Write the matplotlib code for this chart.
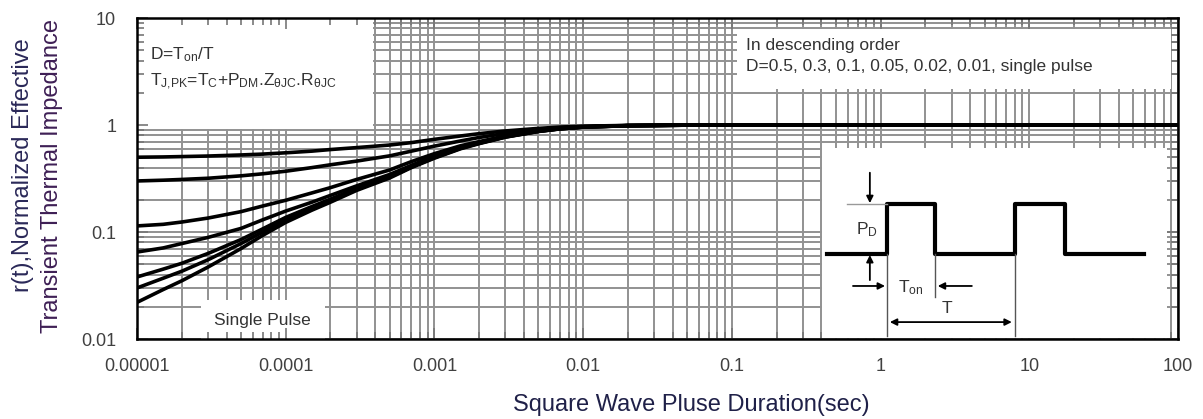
import numpy as np
import matplotlib
matplotlib.use('Agg')
import matplotlib.pyplot as plt
from matplotlib.patches import Rectangle
from matplotlib.ticker import FixedLocator, FixedFormatter, NullFormatter

plt.rcParams['font.family'] = ['Liberation Sans', 'DejaVu Sans']
plt.rcParams['mathtext.fontset'] = 'custom'
plt.rcParams['mathtext.rm'] = 'Liberation Sans'
plt.rcParams['mathtext.it'] = 'Liberation Sans:italic'

# pulse duration (s)
t = [1e-5, 1.5e-5, 2e-5, 3e-5, 5e-5, 7e-5, 1e-4, 1.5e-4, 2e-4, 3e-4, 5e-4, 7e-4,
     1e-3, 1.5e-3, 2e-3, 3e-3, 5e-3, 7e-3, 1e-2, 2e-2, 5e-2, 1e-1, 1, 10, 100]

# normalized transient thermal impedance
d_050 = [0.50, 0.503, 0.507, 0.513, 0.525, 0.535, 0.55, 0.57, 0.59, 0.615, 0.65, 0.685,
         0.735, 0.79, 0.83, 0.88, 0.93, 0.957, 0.975, 0.992, 0.998, 1.0, 1.0, 1.0, 1.0]
d_030 = [0.30, 0.305, 0.31, 0.318, 0.335, 0.35, 0.37, 0.40, 0.425, 0.46, 0.515, 0.57,
         0.635, 0.71, 0.765, 0.835, 0.905, 0.943, 0.967, 0.989, 0.998, 1.0, 1.0, 1.0, 1.0]
d_010 = [0.114, 0.118, 0.124, 0.135, 0.155, 0.175, 0.198, 0.232, 0.26, 0.31, 0.38, 0.455,
         0.54, 0.64, 0.70, 0.79, 0.882, 0.928, 0.96, 0.987, 0.997, 1.0, 1.0, 1.0, 1.0]
d_005 = [0.065, 0.071, 0.078, 0.089, 0.108, 0.13, 0.157, 0.19, 0.22, 0.27, 0.345, 0.42,
         0.515, 0.62, 0.687, 0.782, 0.877, 0.925, 0.958, 0.986, 0.997, 1.0, 1.0, 1.0, 1.0]
d_002 = [0.038, 0.045, 0.051, 0.063, 0.085, 0.107, 0.137, 0.173, 0.203, 0.256, 0.33, 0.41,
         0.50, 0.61, 0.678, 0.776, 0.874, 0.923, 0.957, 0.986, 0.997, 1.0, 1.0, 1.0, 1.0]
d_001 = [0.030, 0.037, 0.043, 0.055, 0.078, 0.10, 0.13, 0.167, 0.197, 0.25, 0.325, 0.405,
         0.495, 0.605, 0.675, 0.773, 0.872, 0.922, 0.956, 0.986, 0.997, 1.0, 1.0, 1.0, 1.0]
single = [0.022, 0.029, 0.035, 0.047, 0.070, 0.093, 0.123, 0.16, 0.19, 0.245, 0.32, 0.40,
          0.49, 0.60, 0.67, 0.77, 0.87, 0.92, 0.955, 0.985, 0.997, 1.0, 1.0, 1.0, 1.0]
curves = [d_050, d_030, d_010, d_005, d_002, d_001, single]

x_ticks = [1e-5, 1e-4, 1e-3, 1e-2, 1e-1, 1, 10, 100]
x_labels = ['0.00001', '0.0001', '0.001', '0.01', '0.1', '1', '10', '100']
y_ticks = [0.01, 0.1, 1, 10]
y_labels = ['0.01', '0.1', '1', '10']

# square wave sketch in the inset (inset units 0..1)
pulse_x = [0.014, 0.188, 0.188, 0.328, 0.328, 0.559, 0.559, 0.704, 0.704, 0.936]
pulse_y = [0.44, 0.44, 0.705, 0.705, 0.44, 0.44, 0.705, 0.705, 0.44, 0.44]

fig = plt.figure(figsize=(12.03, 4.19), dpi=100)
ax = fig.add_axes([0.1139, 0.1909, 0.8653, 0.7661])
ax.set_xscale('log')
ax.set_yscale('log')
ax.set_xlim(1e-5, 100)
ax.set_ylim(0.01, 10)

# grid drawn by hand so the white boxes can sit on it
grid_c = '#929292'
xg = [k * 10.0 ** e for e in range(-5, 2) for k in range(1, 10)] + [100]
yg = [k * 10.0 ** e for e in range(-2, 1) for k in range(1, 10)] + [10]
ax.vlines(xg, 0, 1, transform=ax.get_xaxis_transform(), colors=grid_c, lw=1.4, zorder=1)
ax.hlines(yg, 0, 1, transform=ax.get_yaxis_transform(), colors=grid_c, lw=1.4, zorder=1)

for c in curves:
    ax.plot(t, c, color='black', lw=2.6, zorder=2.2, solid_capstyle='round',
            solid_joinstyle='round')

# white boxes
for (x0, y0, w, h) in [(0.0, 0.655, 0.227, 0.345), (0.576, 0.78, 0.417, 0.185),
                       (0.061, 0.0, 0.12, 0.12)]:
    ax.add_patch(Rectangle((x0, y0), w, h, transform=ax.transAxes, facecolor='white',
                           edgecolor='none', zorder=1.5))

txt = dict(transform=ax.transAxes, fontsize=12.5, color='#333333', va='center', zorder=3)
ax.text(0.0125, 0.885, r'D=T$_{\rm on}$/T', **txt)
ax.text(0.0125, 0.80, r'T$_{\rm J{,}PK}$=T$_{\rm C}$+P$_{\rm DM}$.Z$_{\rm θJC}$.R$_{\rm θJC}$', **txt)
ax.text(0.585, 0.915, 'In descending order', **txt)
ax.text(0.585, 0.85, 'D=0.5, 0.3, 0.1, 0.05, 0.02, 0.01, single pulse', **txt)
ax.text(0.120, 0.058, 'Single Pulse', ha='center', **txt)

ax.xaxis.set_major_locator(FixedLocator(x_ticks))
ax.xaxis.set_major_formatter(FixedFormatter(x_labels))
ax.yaxis.set_major_locator(FixedLocator(y_ticks))
ax.yaxis.set_major_formatter(FixedFormatter(y_labels))
ax.xaxis.set_minor_formatter(NullFormatter())
ax.yaxis.set_minor_formatter(NullFormatter())
ax.tick_params(which='both', direction='in', top=True, right=True, color='#777777', width=1.2)
ax.tick_params(which='major', length=8, labelsize=13, labelcolor='#404040')
ax.tick_params(which='minor', length=5)
ax.tick_params(axis='x', pad=14)
ax.tick_params(axis='y', pad=15)
for s in ax.spines.values():
    s.set_linewidth(1.8)
    s.set_color('black')
    s.set_zorder(4)

# pulse inset
ins = ax.inset_axes([0.658, 0.003, 0.331, 0.592])
ins.set_xlim(0, 1)
ins.set_ylim(0, 1)
ins.set_zorder(1.6)
ins.axis('off')
ins.add_patch(Rectangle((0, 0), 1, 1, facecolor='white', edgecolor='none'))
ins.plot(pulse_x, pulse_y, color='black', lw=3)
thin = dict(color='#555555', lw=1)
ins.plot([0.072, 0.188], [0.705, 0.705], color='#999999', lw=1)
ins.plot([0.188, 0.188], [0.44, 0.01], **thin)
ins.plot([0.328, 0.328], [0.44, 0.216], **thin)
ins.plot([0.559, 0.559], [0.44, 0.01], **thin)
arr = dict(arrowstyle='-|>', color='black', lw=1.3, mutation_scale=10, shrinkA=0, shrinkB=0)
ins.annotate('', xy=(0.139, 0.71), xytext=(0.139, 0.87), arrowprops=arr)
ins.annotate('', xy=(0.139, 0.437), xytext=(0.139, 0.305), arrowprops=arr)
ins.annotate('', xy=(0.183, 0.274), xytext=(0.09, 0.274), arrowprops=arr)
ins.annotate('', xy=(0.336, 0.274), xytext=(0.435, 0.274), arrowprops=arr)
ins.annotate('', xy=(0.197, 0.084), xytext=(0.551, 0.084),
             arrowprops=dict(arrowstyle='<|-|>', color='black', lw=1.3, mutation_scale=10,
                             shrinkA=0, shrinkB=0))
ins.text(0.13, 0.568, r'P$_{\rm D}$', fontsize=12.5, color='#333333', ha='center', va='center')
ins.text(0.258, 0.263, r'T$_{\rm on}$', fontsize=12.5, color='#333333', ha='center', va='center')
ins.text(0.362, 0.158, 'T', fontsize=12.5, color='#333333', ha='center', va='center')

fig.text(0.019, 0.606, 'r(t),Normalized Effective', rotation=90, fontsize=17,
         color='#2a2858', ha='center', va='center')
fig.text(0.0435, 0.58, 'Transient Thermal Impedance', rotation=90, fontsize=17,
         color='#3e1f55', ha='center', va='center')
fig.text(0.5745, 0.033, 'Square Wave Pluse Duration(sec)', fontsize=17,
         color='#1f2048', ha='center', va='center')

fig.savefig('out.png', dpi=100)
